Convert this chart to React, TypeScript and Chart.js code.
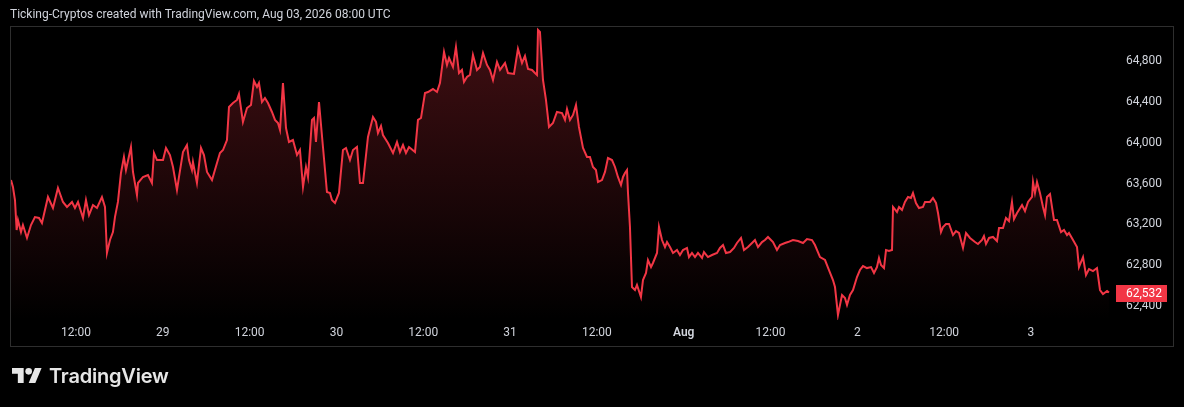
import React, { useEffect, useRef } from "react";
import { Chart, registerables } from "chart.js";

Chart.register(...registerables);

// Hours since Jul 28 00:00 (chart's local time)
const hours: number[] = [
  3.02, 3.29, 3.57, 3.8, 3.98, 4.4, 4.67, 5.23, 5.78, 6.33,
  6.89, 7.3, 8.13, 8.82, 9.51, 10.2, 10.76, 11.45, 11.86, 12.28,
  12.97, 13.38, 13.8, 14.35, 14.9, 15.59, 16.01, 16.28, 16.7, 17.11,
  17.39, 17.8, 18.22, 18.63, 18.91, 19.6, 19.88, 20.43, 20.57, 21.26,
  21.95, 22.5, 22.78, 23.2, 24.03, 24.44, 24.99, 25.41, 25.96, 26.24,
  26.79, 27.34, 27.62, 28.03, 28.17, 28.72, 29.28, 29.69, 30.11, 30.8,
  31.49, 31.9, 32.32, 32.87, 33.15, 33.7, 34.25, 34.53, 35.08, 35.64,
  36.19, 36.6, 37.02, 37.29, 37.71, 38.12, 38.54, 39.09, 39.51, 39.92,
  40.2, 40.61, 41.03, 41.44, 41.99, 42.55, 42.96, 43.38, 43.79, 44.07,
  44.62, 44.9, 45.17, 45.59, 46.14, 46.69, 47.11, 47.38, 47.8, 48.35,
  48.9, 49.32, 49.87, 50.29, 50.84, 51.25, 51.67, 52.36, 53.05, 53.47,
  53.74, 54.16, 54.43, 55.12, 55.82, 56.37, 56.78, 57.2, 57.61, 58.03,
  58.86, 59.27, 59.69, 60.24, 60.65, 61.34, 61.9, 62.31, 62.87, 63.28,
  63.56, 64.11, 64.52, 64.94, 65.35, 65.63, 66.04, 66.46, 66.87, 67.43,
  67.84, 68.26, 68.81, 69.22, 69.64, 70.19, 70.61, 71.3, 71.71, 72.54,
  73.09, 73.65, 74.06, 74.48, 75.03, 75.44, 75.72, 75.86, 76.13, 76.55,
  76.96, 77.38, 77.93, 78.48, 79.18, 79.59, 79.87, 80.28, 80.7, 81.11,
  81.52, 82.08, 82.63, 83.04, 83.46, 83.87, 84.15, 84.7, 85.12, 85.53,
  86.09, 86.5, 86.91, 87.33, 87.61, 87.88, 88.16, 88.3, 88.57, 88.85,
  89.26, 89.54, 90.09, 90.37, 90.79, 91.06, 91.48, 91.75, 92.31, 92.58,
  93.0, 93.41, 93.69, 94.1, 94.52, 95.07, 95.48, 95.9, 96.45, 96.73,
  97.14, 97.56, 97.97, 98.53, 98.8, 99.35, 99.91, 100.6, 101.01, 101.43,
  101.84, 102.4, 102.95, 103.36, 103.92, 104.33, 104.88, 105.44, 105.85, 106.27,
  106.82, 107.23, 107.65, 108.34, 108.89, 109.31, 110.0, 110.41, 111.1, 111.8,
  112.49, 113.04, 113.73, 114.14, 114.84, 115.53, 116.08, 116.63, 116.91, 117.32,
  117.88, 118.29, 118.57, 118.98, 119.4, 119.95, 120.36, 120.78, 121.33, 121.89,
  122.3, 122.71, 122.99, 123.27, 123.68, 123.96, 124.37, 124.79, 124.93, 125.48,
  125.76, 126.17, 126.58, 127.0, 127.41, 127.69, 128.1, 128.52, 129.07, 129.35,
  130.04, 130.45, 130.87, 131.15, 131.56, 131.84, 132.25, 132.67, 133.22, 133.63,
  134.05, 134.6, 135.02, 135.57, 136.26, 136.67, 137.23, 137.5, 137.78, 138.2,
  138.75, 139.3, 139.58, 140.13, 140.54, 140.96, 141.37, 141.65, 142.07, 142.76,
  143.17, 143.59, 144.14, 144.28, 144.55, 144.83, 145.24, 145.66, 145.94, 146.21,
  146.63, 146.9, 147.18, 147.59, 148.15, 148.56, 148.98, 149.25, 149.81, 150.36,
  150.63, 151.19, 151.6, 152.02, 152.57, 153.12, 153.54, 153.95, 154.51, 154.78,
];

const prices: number[] = [
  63635, 63567, 63439, 63145, 63243, 63125, 63194, 63067, 63194, 63272,
  63263, 63214, 63469, 63361, 63557, 63420, 63371, 63420, 63361, 63420,
  63263, 63439, 63292, 63390, 63361, 63469, 63371, 62920, 63047, 63125,
  63272, 63420, 63704, 63861, 63733, 63959, 63714, 63488, 63606, 63665,
  63684, 63606, 63900, 63831, 63831, 63949, 63880, 63763, 63537, 63665,
  63910, 63978, 63831, 63733, 63812, 63606, 63949, 63880, 63714, 63635,
  63802, 63900, 63929, 64027, 64351, 64390, 64420, 64478, 64204, 64341,
  64371, 64606, 64547, 64586, 64400, 64439, 64390, 64302, 64224, 64194,
  64125, 64586, 64145, 64008, 64027, 63880, 63929, 63567, 63763, 63665,
  64224, 64243, 64008, 64400, 63959, 63518, 63508, 63439, 63410, 63508,
  63929, 63949, 63831, 63929, 63959, 63606, 63606, 64057, 64253, 64204,
  64096, 64165, 64076, 63998, 63900, 64008, 63910, 63978, 63900, 63959,
  63910, 64224, 64243, 64488, 64498, 64527, 64498, 64586, 64890, 64763,
  64831, 64743, 64939, 64684, 64714, 64596, 64645, 64665, 64861, 64714,
  64743, 64880, 64763, 64714, 64616, 64792, 64714, 64782, 64684, 64675,
  64920, 64782, 64851, 64724, 64714, 64684, 64665, 65106, 65086, 64616,
  64420, 64155, 64194, 64302, 64292, 64224, 64331, 64224, 64273, 64371,
  64155, 63949, 63861, 63861, 63763, 63733, 63616, 63635, 63714, 63851,
  63831, 63763, 63665, 63586, 63665, 63704, 63733, 63508, 63175, 62586,
  62557, 62606, 62488, 62655, 62724, 62851, 62782, 62822, 62920, 63175,
  63047, 62978, 63027, 62978, 62920, 62949, 62900, 62949, 62969, 62880,
  62920, 62880, 62920, 62871, 62929, 62880, 62900, 62920, 62969, 62998,
  62920, 62929, 62969, 63018, 63067, 62949, 62978, 63018, 63047, 62978,
  63027, 63047, 63077, 63027, 62949, 62998, 63018, 63027, 63047, 63037,
  63018, 63057, 63047, 62998, 62880, 62851, 62753, 62655, 62586, 62312,
  62508, 62478, 62410, 62508, 62557, 62684, 62753, 62792, 62772, 62782,
  62724, 62782, 62871, 62802, 62772, 62949, 62939, 62949, 63371, 63322,
  63371, 63341, 63420, 63469, 63459, 63508, 63410, 63361, 63371, 63420,
  63420, 63459, 63410, 63312, 63125, 63175, 63204, 63204, 63096, 63135,
  63116, 62969, 63116, 63067, 63027, 63008, 63047, 63086, 63008, 63067,
  63077, 63037, 63165, 63165, 63263, 63233, 63420, 63253, 63312, 63390,
  63331, 63420, 63469, 63616, 63508, 63616, 63508, 63371, 63292, 63469,
  63498, 63371, 63243, 63243, 63125, 63145, 63096, 63116, 63047, 62978,
  62782, 62880, 62704, 62763, 62743, 62772, 62557, 62518, 62547, 62532,
];

const xTickHours: number[] = [12, 24, 36, 48, 60, 72, 84, 96, 108, 120, 132, 144];
const xTickLabels: string[] = ["12:00", "29", "12:00", "30", "12:00", "31", "12:00", "Aug", "12:00", "2", "12:00", "3"];
const yTickValues: number[] = [62400, 62800, 63200, 63600, 64000, 64400, 64800];

const headerText = "Ticking-Cryptos created with TradingView.com, Aug 03, 2026 08:00 UTC";
const brandText = "TradingView";

const X_MIN = 3.02;
const X_MAX = 154.92;
const Y_MIN = 62263;
const Y_MAX = 65135;

const LINE_COLOR = "#f23645";
const TEXT_COLOR = "#d1d4dc";
const FRAME_COLOR = "#2e2e2e";
const FONT = "Roboto";

const fmt = (v: number) => Number(v).toLocaleString("en-US");

const framePlugin = {
  id: "tvFrame",
  beforeDraw(chart: any) {
    const { ctx } = chart;
    ctx.save();
    ctx.fillStyle = "#000";
    ctx.fillRect(0, 0, chart.width, chart.height);
    ctx.restore();
  },
  afterDraw(chart: any) {
    const { ctx, chartArea, scales } = chart;
    ctx.save();
    const left = chartArea.left - 0.5;
    const top = chartArea.top - 0.5;
    const right = scales.y.right + 0.5;
    const bottom = scales.x.bottom + 0.5;
    ctx.strokeStyle = FRAME_COLOR;
    ctx.lineWidth = 1;
    ctx.strokeRect(left, top, right - left, bottom - top);

    const last = prices[prices.length - 1];
    const y = scales.y.getPixelForValue(last);
    const bx = chartArea.right + 6;
    ctx.fillStyle = LINE_COLOR;
    ctx.fillRect(bx, Math.round(y) - 8, 51, 17);
    ctx.fillStyle = "#ffffff";
    ctx.font = `12px ${FONT}`;
    ctx.textBaseline = "middle";
    ctx.textAlign = "left";
    ctx.fillText(fmt(last), chartArea.right + 16, Math.round(y) + 0.5);
    ctx.restore();
  },
};

export default function App() {
  const canvasRef = useRef<HTMLCanvasElement | null>(null);

  useEffect(() => {
    document.body.style.margin = "0";
    document.body.style.background = "#000";
    const canvas = canvasRef.current;
    if (!canvas) return;
    const n = Math.min(hours.length, prices.length);
    const points = [] as { x: number; y: number }[];
    for (let i = 0; i < n; i++) points.push({ x: hours[i], y: prices[i] });

    const chart = new Chart(canvas, {
      type: "line",
      data: {
        datasets: [
          {
            data: points,
            borderColor: LINE_COLOR,
            borderWidth: 2,
            pointRadius: 0,
            tension: 0,
            fill: "start",
            backgroundColor: (c: any) => {
              const ch = c.chart;
              const area = ch.chartArea;
              if (!area) return "transparent";
              const g = ch.ctx.createLinearGradient(0, area.top, 0, area.bottom);
              g.addColorStop(0, "rgba(242,54,69,0.27)");
              g.addColorStop(1, "rgba(242,54,69,0)");
              return g;
            },
          },
        ],
      },
      options: {
        animation: false,
        responsive: false,
        events: [],
        layout: { padding: { left: 11, top: 27, right: 11, bottom: 61 } },
        plugins: { legend: { display: false }, tooltip: { enabled: false } },
        scales: {
          x: {
            type: "linear",
            min: X_MIN,
            max: X_MAX,
            grid: { display: false, drawTicks: false },
            border: { display: false },
            afterBuildTicks: (s: any) => {
              s.ticks = xTickHours.map((v) => ({ value: v }));
            },
            afterFit: (s: any) => {
              s.height = 26;
            },
            ticks: {
              autoSkip: false,
              maxRotation: 0,
              padding: 6,
              color: TEXT_COLOR,
              font: (c: any) => {
                const idx = c.tick ? xTickHours.indexOf(c.tick.value) : -1;
                const bold = idx >= 0 && xTickLabels[idx] === "Aug";
                return { family: FONT, size: 12, weight: bold ? "600" : "400" };
              },
              callback: (v: any) => {
                const idx = xTickHours.indexOf(Number(v));
                return idx >= 0 ? xTickLabels[idx] : "";
              },
            },
          },
          y: {
            type: "linear",
            position: "right",
            min: Y_MIN,
            max: Y_MAX,
            grid: { display: false, drawTicks: false },
            border: { display: false },
            afterBuildTicks: (s: any) => {
              s.ticks = yTickValues.map((v) => ({ value: v }));
            },
            afterFit: (s: any) => {
              s.width = 63;
            },
            ticks: {
              padding: 16,
              color: TEXT_COLOR,
              crossAlign: "near",
              font: { family: FONT, size: 12 },
              callback: (v: any) => fmt(Number(v)),
            },
          },
        },
      },
      plugins: [framePlugin],
    } as any);

    return () => {
      chart.destroy();
    };
  }, []);

  return (
    <div style={{ position: "relative", width: 1184, height: 407, background: "#000", overflow: "hidden" }}>
      <canvas ref={canvasRef} width={1184} height={407} style={{ position: "absolute", left: 0, top: 0, width: 1184, height: 407 }} />
      <div
        style={{
          position: "absolute",
          left: 10,
          top: 5,
          fontFamily: FONT,
          fontSize: 12,
          lineHeight: "18px",
          color: TEXT_COLOR,
          whiteSpace: "nowrap",
        }}
      >
        {headerText}
      </div>
      <svg
        width={30}
        height={15}
        viewBox="0 4 36 18"
        style={{ position: "absolute", left: 12, top: 368 }}
      >
        <path d="M14 22H7V11H0V4h14v18z M28 22h-8l7.5-18h8L28 22z" fill="#e6e6e6" />
        <circle cx={20} cy={8} r={4} fill="#e6e6e6" />
      </svg>
      <div
        style={{
          position: "absolute",
          left: 49,
          top: 364,
          fontFamily: "Inter",
          fontWeight: 600,
          fontSize: 20,
          lineHeight: "24px",
          color: "#e6e6e6",
          whiteSpace: "nowrap",
          letterSpacing: "-0.2px",
        }}
      >
        {brandText}
      </div>
    </div>
  );
}
